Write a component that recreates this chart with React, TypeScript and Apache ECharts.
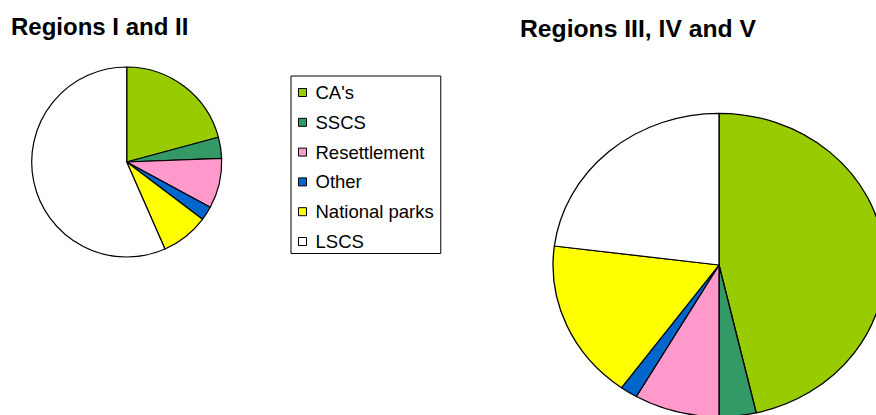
import React, { useEffect, useRef } from "react";
import * as echarts from "echarts";

const categories = ["CA's", "SSCS", "Resettlement", "Other", "National parks", "LSCS"];
const colors = ["#99CC00", "#339966", "#FF99CC", "#0066CC", "#FFFF00", "#FFFFFF"];
const regionsIandII = [20.8, 3.6, 8.5, 2.4, 8.1, 56.6];
const regionsIIItoV = [46.4, 3.6, 8.3, 1.7, 17.0, 23.0];
const titles = ["Regions I and II", "Regions III, IV and V"];

const FONT = '"Liberation Sans", Arial, Helvetica, sans-serif';

function pieData(values: number[]) {
  return categories.map((name, i) => ({
    name,
    value: values[i],
    itemStyle: { color: colors[i] },
  }));
}

function pieSeries(values: number[], center: any, radius: number) {
  return {
    type: "pie",
    center,
    radius,
    startAngle: 90,
    clockwise: true,
    data: pieData(values),
    label: { show: false },
    labelLine: { show: false },
    itemStyle: { borderColor: "#000", borderWidth: 1.2 },
    emphasis: { disabled: true },
    silent: true,
  };
}

export default function App() {
  const mainRef = useRef<HTMLDivElement>(null);
  const rightRef = useRef<HTMLDivElement>(null);

  useEffect(() => {
    const main = echarts.init(mainRef.current!, null, { renderer: "svg" });
    main.setOption({
      animation: false,
      graphic: [
        {
          type: "text",
          x: 11,
          y: 26.3,
          style: {
            text: titles[0],
            font: `bold 24px ${FONT}`,
            fill: "#000",
            verticalAlign: "middle",
          },
        },
        {
          type: "text",
          x: 520,
          y: 28.7,
          style: {
            text: titles[1],
            font: `bold 24.7px ${FONT}`,
            fill: "#000",
            verticalAlign: "middle",
          },
        },
      ],
      legend: {
        orient: "vertical",
        left: 291,
        top: 76,
        itemWidth: 8,
        itemHeight: 8,
        itemGap: 10.8,
        padding: [7, 7, 2.5, 7],
        borderColor: "#000",
        borderWidth: 1,
        icon: "rect",
        selectedMode: false,
        textStyle: { fontFamily: FONT, fontSize: 18.5, color: "#000", padding: [0, 0, 0, 4] },
        itemStyle: { borderColor: "#000", borderWidth: 1 },
        data: categories,
      },
      series: [pieSeries(regionsIandII, [126.7, 162], 95)],
    });

    const right = echarts.init(rightRef.current!, null, { renderer: "svg" });
    right.setOption({
      animation: false,
      series: [pieSeries(regionsIIItoV, ["50%", "50%"], 151.7)],
    });

    return () => {
      main.dispose();
      right.dispose();
    };
  }, []);

  return (
    <div
      style={{
        position: "absolute",
        left: 0,
        top: 0,
        width: 876,
        height: 415,
        overflow: "hidden",
        background: "#fff",
      }}
    >
      <div ref={mainRef} style={{ position: "absolute", left: 0, top: 0, width: 876, height: 415 }} />
      <div
        ref={rightRef}
        style={{
          position: "absolute",
          left: 518.7,
          top: 65,
          width: 400,
          height: 400,
          transform: "scaleX(1.094)",
          transformOrigin: "200px 200px",
        }}
      />
    </div>
  );
}
